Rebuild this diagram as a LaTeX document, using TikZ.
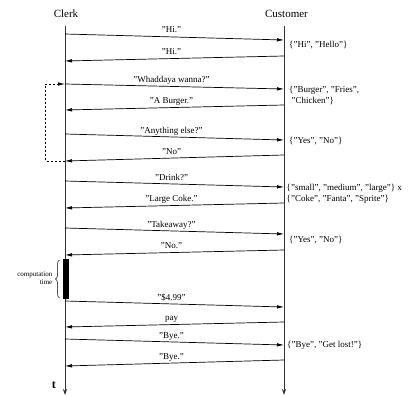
\documentclass[tikz,border=0pt]{standalone}
\usepackage{fontspec}
\setmainfont{Liberation Serif}
\usetikzlibrary{arrows.meta,decorations.pathreplacing}
\begin{document}
\begin{tikzpicture}[x=1pt,y=-1pt,
  life/.style={line width=0.8pt,draw=black!80,-{Stealth[length=6pt,width=4pt,inset=2pt]}},
  msg/.style={line width=0.7pt,-{Latex[length=7pt,width=3.5pt]}},
  lbl/.style={font=\fontsize{9}{10}\selectfont,anchor=base,yshift=4pt,xshift=-3pt,inner sep=0pt},
  ann/.style={font=\fontsize{9}{11}\selectfont,anchor=west,inner sep=0pt,align=left},
  head/.style={font=\fontsize{11}{12}\selectfont,inner sep=0pt},
  loopline/.style={line width=0.7pt,dash pattern=on 2pt off 2pt,-{Latex[length=7pt,width=3.5pt]}},
  barbox/.style={fill=black,inner sep=0pt,minimum width=6pt,minimum height=40pt}]
\useasboundingbox (0,0) rectangle (409,396);
% headings
\node[head] (clerk) at (66,14) {Clerk};
\node[head] (cust) at (286.5,14) {Customer};
% lifelines
\coordinate (ctop) at (65,26);
\coordinate (cbot) at (65,395);
\coordinate (utop) at (284,26);
\coordinate (ubot) at (284,395);
\draw[life] (ctop) -- (cbot);
\draw[life] (utop) -- (ubot);
% message end points
\foreach \n/\a/\b in {1/34/40,3/84/89,5/134/140,7/181/187,9/228/234,11/301/307,13/339/345}{
  \coordinate (c\n) at (65,\a);
  \coordinate (u\n) at (284,\b);
}
\foreach \n/\a/\b in {2/56/61,4/105/110,6/155/161,8/203/208,10/250/255,12/322/327,14/360/366}{
  \coordinate (u\n) at (284,\a);
  \coordinate (c\n) at (65,\b);
}
\draw[msg] (c1) -- node[lbl] {"Hi."} (u1);
\draw[msg] (u2) -- node[lbl] {"Hi."} (c2);
\draw[msg] (c3) -- node[lbl] {"Whaddaya wanna?"} (u3);
\draw[msg] (u4) -- node[lbl] {"A Burger."} (c4);
\draw[msg] (c5) -- node[lbl] {"Anything else?"} (u5);
\draw[msg] (u6) -- node[lbl] {"No"} (c6);
\draw[msg] (c7) -- node[lbl] {"Drink?"} (u7);
\draw[msg] (u8) -- node[lbl] {"Large Coke."} (c8);
\draw[msg] (c9) -- node[lbl] {"Takeaway?"} (u9);
\draw[msg] (u10) -- node[lbl] {"No."} (c10);
\draw[msg] (c11) -- node[lbl] {"\$4.99"} (u11);
\draw[msg] (u12) -- node[lbl] {pay} (c12);
\draw[msg] (c13) -- node[lbl] {"Bye."} (u13);
\draw[msg] (u14) -- node[lbl] {"Bye."} (c14);
% annotations
\node[ann] (a1) at (289,45.5) {\{"Hi", "Hello"\}};
\node[ann] (a2) at (289,95.5) {\{"Burger", "Fries",\\\hspace{2.5pt}"Chicken"\}};
\node[ann] (a3) at (289,141) {\{"Yes", "No"\}};
\node[ann] (a4) at (286.5,193.5) {\{"small", "medium", "large"\} x\\\{"Coke", "Fanta", "Sprite"\}};
\node[ann] (a5) at (289,240) {\{"Yes", "No"\}};
\node[ann] (a6) at (287,345) {\{"Bye", "Get lost!"\}};
% loop
\coordinate (lb) at (45.7,161);
\coordinate (lt) at (45.7,84);
\draw[loopline] (c6) -- (lb) -- (lt) -- (c3);
% computation time
\node[barbox] (bar) at (65.7,279) {};
\draw[line width=0.5pt,decorate,decoration={brace,amplitude=4pt}] (59.5,298) -- (59.5,260);
\node[font=\fontsize{7}{8}\selectfont,align=right,anchor=east,inner sep=0pt] (ct) at (52.5,278) {computation\\time};
% time label
\node[font=\bfseries\fontsize{12}{12}\selectfont,inner sep=0pt] (t) at (53.8,385) {t};
\end{tikzpicture}
\end{document}
